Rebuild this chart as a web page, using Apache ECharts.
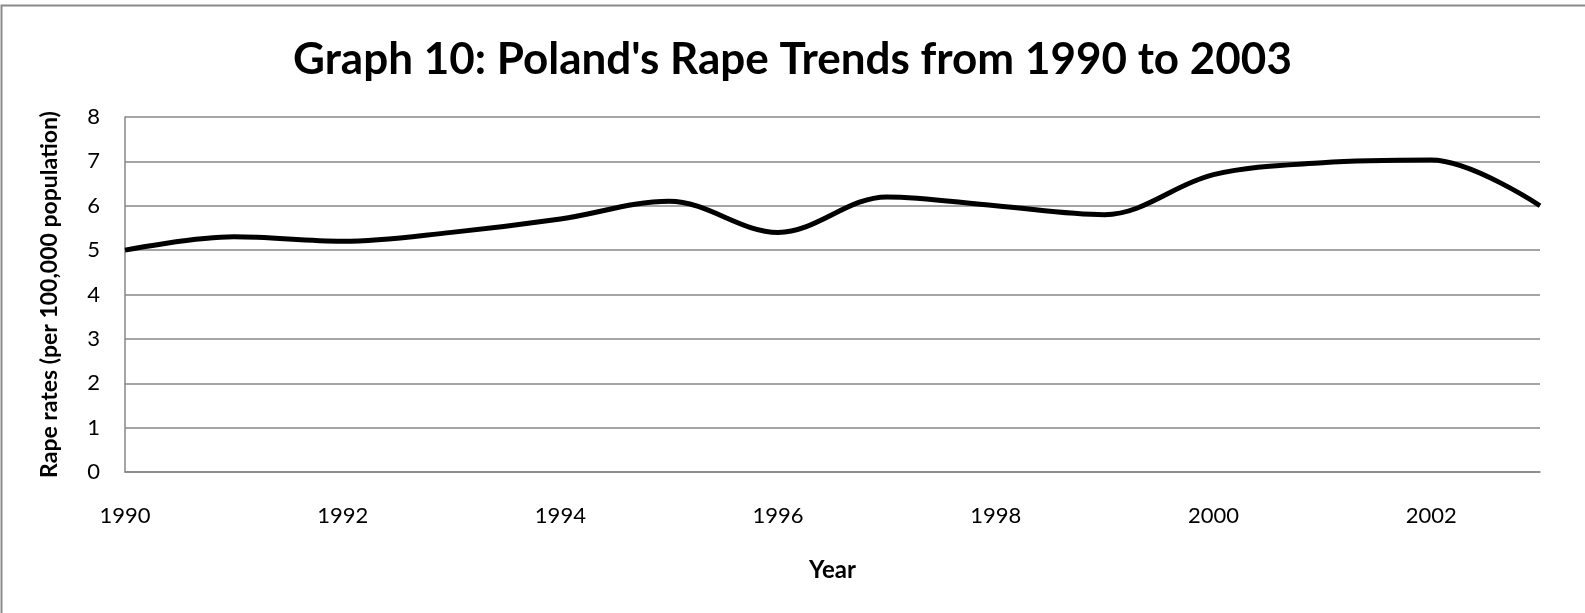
<!DOCTYPE html>
<html>
<head>
<meta charset="utf-8">
<script src="https://cdn.jsdelivr.net/npm/echarts@6/dist/echarts.min.js"></script>
<style>
  html, body { margin: 0; padding: 0; background: #fff; }
  #chart { width: 1585px; height: 613px; }
</style>
</head>
<body>
<div id="chart"></div>
<script>
// Poland, rape rates per 100,000 population
const years = [1990, 1991, 1992, 1993, 1994, 1995, 1996, 1997, 1998, 1999, 2000, 2001, 2002, 2003];
const rates = [5.0, 5.3, 5.2, 5.4, 5.7, 6.1, 5.4, 6.2, 6.0, 5.8, 6.7, 6.97, 7.03, 6.0];
const yTicks = [0, 1, 2, 3, 4, 5, 6, 7, 8];

const font = 'Lato, "Open Sans", sans-serif';
const chart = echarts.init(document.getElementById('chart'));

const option = {
  backgroundColor: '#fff',
  animation: false,
  // outer frame of the chart area
  graphic: [{
    type: 'rect',
    shape: { x: 1.5, y: 5.5, width: 2000, height: 1000 },
    style: { fill: 'none', stroke: '#8a8a8a', lineWidth: 2 },
    silent: true
  }],
  title: {
    text: "Graph 10: Poland's Rape Trends from 1990 to 2003",
    left: 'center',
    top: 33,
    textStyle: { fontFamily: font, fontWeight: 'bold', fontSize: 44, color: '#000' }
  },
  grid: { left: 125, right: 45, top: 117, bottom: 141 },
  xAxis: {
    type: 'value',
    min: 1990,
    max: 2003,
    interval: 2,
    name: 'Year',
    nameLocation: 'middle',
    nameGap: 86,
    nameTextStyle: { fontFamily: font, fontWeight: 'bold', fontSize: 24, color: '#000' },
    axisLine: { show: true, lineStyle: { color: '#878787', width: 1.5 } },
    axisTick: { show: false },
    splitLine: { show: false },
    axisLabel: {
      showMaxLabel: false,
      margin: 33,
      fontFamily: font, fontSize: 22, color: '#000',
      formatter: v => String(v)
    }
  },
  yAxis: {
    type: 'value',
    min: yTicks[0],
    max: yTicks[yTicks.length - 1],
    interval: 1,
    name: 'Rape rates (per 100,000 population)',
    nameLocation: 'middle',
    nameGap: 64,
    nameTextStyle: { fontFamily: font, fontWeight: 'bold', fontSize: 23, color: '#000' },
    axisLine: { show: true, lineStyle: { color: '#878787', width: 1.5 } },
    axisTick: { show: false },
    splitLine: { show: true, lineStyle: { color: '#878787', width: 1.5 } },
    axisLabel: { margin: 25, fontFamily: font, fontSize: 22, color: '#000' }
  },
  series: [{
    type: 'line',
    data: years.map((y, i) => [y, rates[i]]),
    smooth: 0.35,
    symbol: 'none',
    lineStyle: { color: '#000', width: 5 }
  }]
};

chart.setOption(option);
</script>
</body>
</html>
